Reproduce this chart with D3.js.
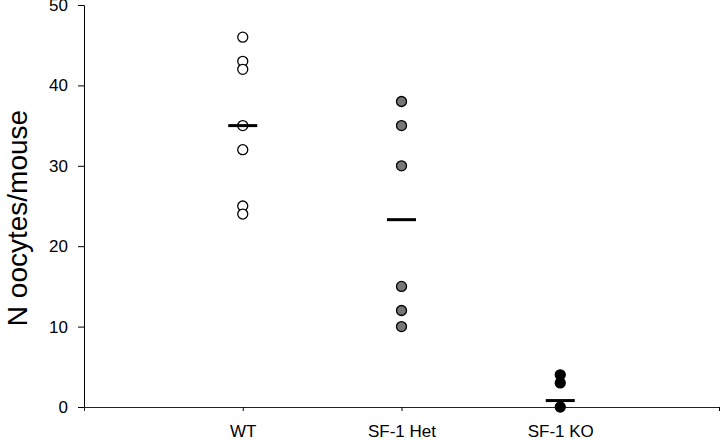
<!DOCTYPE html>
<html>
<head>
<meta charset="utf-8">
<script src="https://cdn.jsdelivr.net/npm/d3@7.9.0/dist/d3.min.js"></script>
<style>
  body { margin: 0; background: #fff; }
  svg { display: block; font-family: "Liberation Sans", Arial, sans-serif; }
</style>
</head>
<body>
<svg id="chart" width="720" height="440"></svg>
<script>
// ========== Data ==========
const groups = ['WT', 'SF-1 Het', 'SF-1 KO'];
const wtValues = [46, 43, 42, 35, 32, 25, 24];
const hetValues = [38, 35, 30, 15, 12, 10];
const koValues = [4, 3, 0];
const groupMeans = [35, 23.3, 0.8];
const yTicks = [0, 10, 20, 30, 40, 50];
const fills = ['#ffffff', '#777777', '#000000'];

// ========== Layout ==========
const svg = d3.select('#chart');
const plotLeft = 84, plotRight = 719, plotTop = 5, plotBottom = 407;

// x is a linear position axis: 0 at y-axis, groups at 1..3, ends at 4
const x = d3.scaleLinear().domain([0, 4]).range([plotLeft, plotRight]);
const y = d3.scaleLinear().domain([0, 50]).range([plotBottom, plotTop]);

// y axis
const yAxis = svg.append('g')
  .attr('transform', `translate(${plotLeft},0)`)
  .call(d3.axisLeft(y).tickValues(yTicks).tickSize(6).tickPadding(10));
yAxis.select('.domain').attr('stroke', '#000');
yAxis.selectAll('text').attr('font-size', 17).attr('fill', '#000');

// x axis
const xAxis = svg.append('g')
  .attr('transform', `translate(0,${plotBottom})`)
  .call(d3.axisBottom(x).tickValues([1, 2, 3, 4]).tickSize(4)
    .tickFormat((d) => groups[d - 1] || ''));
xAxis.select('.domain').attr('stroke', '#222');
xAxis.selectAll('text').attr('font-size', 17).attr('fill', '#000').attr('dy', '1.35em');

// y label
svg.append('text')
  .attr('transform', `translate(27,218) rotate(-90)`)
  .attr('text-anchor', 'middle')
  .attr('font-size', 28)
  .attr('fill', '#000')
  .text('N oocytes/mouse');

// ========== Points ==========
const series = [wtValues, hetValues, koValues];
series.forEach((vals, i) => {
  svg.append('g').selectAll('circle')
    .data(vals)
    .join('circle')
    .attr('cx', x(i + 1))
    .attr('cy', (d) => y(d))
    .attr('r', 5)
    .attr('fill', fills[i])
    .attr('stroke', '#000')
    .attr('stroke-width', 1.3);
});

// mean lines
svg.append('g').selectAll('line')
  .data(groupMeans)
  .join('line')
  .attr('x1', (d, i) => x(i + 1) - 14.5)
  .attr('x2', (d, i) => x(i + 1) + 14.5)
  .attr('y1', (d) => y(d))
  .attr('y2', (d) => y(d))
  .attr('stroke', '#000')
  .attr('stroke-width', 3);
</script>
</body>
</html>
